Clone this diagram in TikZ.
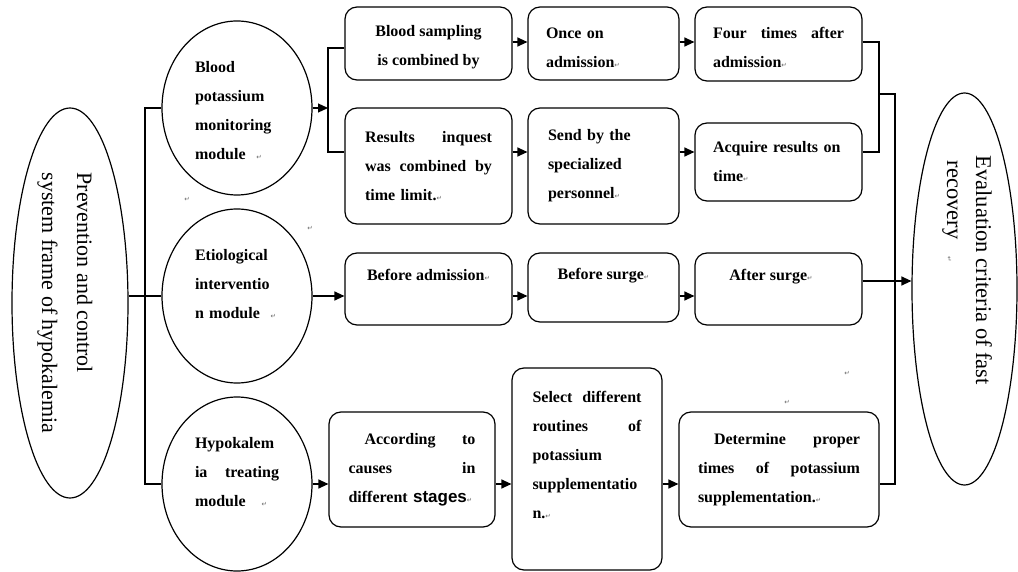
\documentclass[tikz,border=0pt]{standalone}
\usepackage{fontspec}
\setmainfont{Liberation Serif}
\setsansfont{Liberation Sans}
\newfontfamily\retfont{DejaVu Sans}
\usetikzlibrary{shapes.geometric,arrows.meta}
\newcommand{\rt}{{\retfont\mdseries\fontsize{6.5}{6.5}\selectfont\textcolor{black!60}{↵}}}
\newcommand{\jst}[2]{\leavevmode\hbox to #1{#2}}
\newcommand{\up}{\rule{0pt}{19pt}}
\begin{document}
\begin{tikzpicture}[x=1pt,y=-1pt,line width=1.2pt,
  arr/.style={-{Triangle[length=10pt,width=9pt]}},
  oval/.style={draw,ellipse,inner sep=0pt},
  mod/.style={oval,minimum width=150pt,minimum height=174pt},
  boxt/.style={draw,rounded corners=12pt,inner sep=0pt,font=\bfseries\fontsize{16}{29}\selectfont},
  ctext/.style={font=\bfseries\fontsize{16}{29}\selectfont,text width=84pt,align=left,inner sep=0pt},
  rot/.style={rotate=-90,anchor=base west,inner sep=0pt,font=\fontsize{22}{26}\selectfont},
  retm/.style={inner sep=0pt,font=\retfont\fontsize{6.5}{6.5}\selectfont,text=black!60}
]
\useasboundingbox (0,0) rectangle (1018,572);

% outer ellipses
\node[oval,minimum width=116pt,minimum height=390pt] (e1) at (70,303) {};
\node[rot] (e1a) at (77,172) {Prevention and control};
\node[rot] (e1b) at (42,172) {system frame of hypokalemia};
\node[oval,minimum width=105pt,minimum height=392pt] (e2) at (964.5,289) {};
\node[rot,font=\fontsize{22.5}{26}\selectfont] (e2a) at (976,155) {Evaluation criteria of fast};
\node[rot,font=\fontsize{22.5}{26}\selectfont] (e2b) at (947,160) {recovery\ \ \ \rt};

% module circles
\node[mod] (c1) at (237,108) {};
\node[ctext] (c1t) at (237,111) {Blood\\potassium\\monitoring\\module\ \ \rt};
\node[mod] (c2) at (237,296) {};
\node[ctext] (c2t) at (237,284) {Etiological\\interventio\\n module\ \ \rt};
\node[mod] (c3) at (237,484) {};
\node[ctext] (c3t) at (237,472) {Hypokalem\\\jst{84pt}{ia\hfill treating}\\module\ \ \ \rt};

% row A
\node[boxt,minimum width=167pt,minimum height=73pt,align=center] (a1) at (428.5,43.5) {\up Blood sampling\\is combined by};
\node[boxt,minimum width=151pt,minimum height=73pt,text width=115pt,align=left] (a2) at (603.5,43.5) {\up Once on\\admission\rt};
\node[boxt,minimum width=167pt,minimum height=74pt,text width=131pt,align=left] (a3) at (778.5,44) {\jst{131pt}{\up Four\hfill times\hfill after}\\admission\rt};
% row B
\node[boxt,minimum width=167pt,minimum height=116pt,text width=127pt,align=left] (b1) at (428.5,166) {\jst{127pt}{Results\hfill inquest}\\\jst{127pt}{was\hfill combined\hfill by}\\time limit.\rt};
\node[boxt,minimum width=151pt,minimum height=116pt,text width=111pt,align=left] (b2) at (603.5,166) {Send by the\\specialized\\personnel\rt};
\node[boxt,minimum width=167pt,minimum height=78pt,text width=131pt,align=left] (b3) at (778.5,162) {Acquire results on\\time\rt};
% row C
\node[boxt,minimum width=167pt,minimum height=72pt,align=center] (cb1) at (428.5,289) {Before admission\rt\\[-10pt]\strut};
\node[boxt,minimum width=151pt,minimum height=69pt,align=center] (cb2) at (603.5,287.5) {Before surge\rt\\[-10pt]\strut};
\node[boxt,minimum width=167pt,minimum height=72pt,align=center] (cb3) at (778.5,289) {After surge\rt\hspace*{15pt}\\[-10pt]\strut};
% row D
\node[boxt,minimum width=166pt,minimum height=115pt,text width=127pt,align=left] (d1) at (412,469.5) {\jst{127pt}{\hspace*{16pt}According\hfill to}\\\jst{127pt}{causes\hfill in}\\different {\sffamily\fontsize{17}{29}\selectfont stages}\rt};
\node[boxt,minimum width=150pt,minimum height=202pt,text width=109pt,align=left] (d2) at (587,469) {\jst{109pt}{Select\hfill different}\\\jst{109pt}{routines\hfill of}\\potassium\\supplementatio\\n.\rt\\[-10pt]\strut};
\node[boxt,minimum width=200pt,minimum height=115pt,text width=162pt,align=left] (d3) at (779,469.5) {\jst{162pt}{\hspace*{16pt}Determine\hfill proper}\\\jst{162pt}{times\hfill of\hfill potassium}\\supplementation.\rt};

% stray paragraph marks
\node[retm] (r1) at (187,199) {↵};
\node[retm] (r2) at (310,228) {↵};
\node[retm] (r3) at (847,373) {↵};
\node[retm] (r4) at (787,402) {↵};

% helper coordinates
\coordinate (ra) at (0,42);
\coordinate (rb) at (0,152);
\coordinate (rc) at (0,296);
\coordinate (rd) at (0,484);
\coordinate (re) at (0,281);
\coordinate (tr) at (145,0);
\coordinate (j1) at (328,108);
\coordinate (j1t) at (328,48);
\coordinate (j1b) at (328,152);
\coordinate (k1) at (879,94);
\coordinate (k2) at (895,94);

% left trunk
\draw (e1.east|-rc) -- (c2.west);
\draw (c1.west) -| (tr|-rd) -- (c3.west);

% blood potassium branch
\draw[arr] (c1.east) -- (j1);
\draw (j1t-|a1.west) -- (j1t) -- (j1b) -- (j1b-|b1.west);
\draw[arr] (a1.east|-ra) -- (a2.west|-ra);
\draw[arr] (a2.east|-ra) -- (a3.west|-ra);
\draw[arr] (b1.east|-rb) -- (b2.west|-rb);
\draw[arr] (b2.east|-rb) -- (b3.west|-rb);

% etiological branch
\draw[arr] (c2.east) -- (cb1.west|-rc);
\draw[arr] (cb1.east|-rc) -- (cb2.west|-rc);
\draw[arr] (cb2.east|-rc) -- (cb3.west|-rc);

% treating branch
\draw[arr] (c3.east) -- (d1.west|-rd);
\draw[arr] (d1.east|-rd) -- (d2.west|-rd);
\draw[arr] (d2.east|-rd) -- (d3.west|-rd);

% right collector
\draw (a3.east|-ra) -| (k1) |- (b3.east|-rb);
\draw (k1) -- (k2) |- (d3.east|-rd);
\draw[arr] (cb3.east|-re) -- (e2.west|-re);
\end{tikzpicture}
\end{document}
